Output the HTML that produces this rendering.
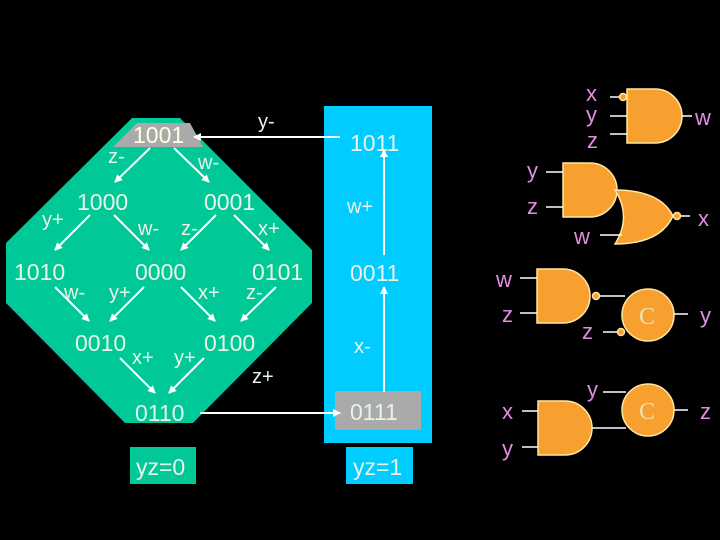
<!DOCTYPE html>
<html><head><style>body{margin:0;background:#000}svg{display:block}</style></head><body>
<svg width="720" height="540" viewBox="0 0 720 540" xmlns="http://www.w3.org/2000/svg" font-family="Liberation Sans, sans-serif">
<defs><marker id="a" markerWidth="8" markerHeight="8" refX="7" refY="4" orient="auto" markerUnits="userSpaceOnUse"><path d="M0,0 L8,4 L0,8 z" fill="#fff"/></marker></defs>
<rect width="720" height="540" fill="#000"/>
<polygon points="132,118 180,118 312,250 312,303 193,423 125,423 6,303 6,243" fill="#00c896"/>
<polygon points="137,123 190,123 203,147 113,147" fill="#aaa"/>
<rect x="324" y="106" width="108" height="337" fill="#00ccff"/>
<rect x="335" y="391" width="86" height="39" fill="#aaa"/>
<rect x="130" y="447" width="66" height="37" fill="#00c896"/>
<rect x="346" y="447" width="67" height="37" fill="#00ccff"/>
<g stroke="#fff" stroke-width="2" fill="none" marker-end="url(#a)">
<line x1="150" y1="148" x2="115" y2="182"/><line x1="174" y1="148" x2="209" y2="182"/>
<line x1="90" y1="215" x2="55" y2="250"/><line x1="114" y1="215" x2="149" y2="250"/>
<line x1="216" y1="215" x2="181" y2="250"/><line x1="234" y1="215" x2="269" y2="250"/>
<line x1="55" y1="287" x2="89" y2="321"/><line x1="144" y1="287" x2="110" y2="321"/>
<line x1="181" y1="287" x2="215" y2="321"/><line x1="276" y1="287" x2="241" y2="321"/>
<line x1="120" y1="358" x2="155" y2="393"/><line x1="204" y1="358" x2="169" y2="393"/>
<line x1="320" y1="137" x2="194" y2="137"/>
<line x1="200" y1="413" x2="340" y2="413"/>
<line x1="384" y1="392" x2="384" y2="287"/><line x1="384" y1="255" x2="384" y2="150"/>
</g>
<line x1="320" y1="137" x2="340" y2="137" stroke="#fff" stroke-width="2"/>
<g fill="#e8f4e8" font-size="23">
<text x="133" y="143" fill="#ffffe0">1001</text>
<text x="77" y="210">1000</text><text x="204" y="210">0001</text>
<text x="14" y="280">1010</text><text x="135" y="280">0000</text><text x="252" y="280">0101</text>
<text x="75" y="351">0010</text><text x="204" y="351">0100</text>
<text x="135" y="421">0110</text>
<text x="350" y="151">1011</text><text x="350" y="281">0011</text><text x="350" y="420">0111</text>
<text x="136" y="475">yz=0</text><text x="353" y="475">yz=1</text>
</g>
<g fill="#e8f4e8" font-size="20">
<text x="108" y="163">z-</text><text x="198" y="169">w-</text><text x="258" y="128">y-</text>
<text x="42" y="226">y+</text><text x="138" y="235">w-</text><text x="181" y="235">z-</text><text x="258" y="235">x+</text>
<text x="64" y="299">w-</text><text x="109" y="299">y+</text><text x="198" y="299">x+</text><text x="246" y="299">z-</text>
<text x="132" y="364">x+</text><text x="174" y="364">y+</text>
<text x="252" y="383">z+</text>
<text x="347" y="213">w+</text><text x="354" y="353">x-</text>
</g>
<g fill="#f7a030" stroke="#ffe8a0" stroke-width="1.5">
<path d="M627,89 H655 A27,27 0 0 1 655,143 H627 Z"/>
<path d="M563,163 H590 A27,27 0 0 1 590,217 H563 Z"/>
<path d="M615,190 Q660,190 673,216 Q660,244 615,244 Q632,217 615,190 Z"/>
<path d="M537,269 H563 A27,27 0 0 1 563,323 H537 Z"/>
<path d="M538,401 H565 A27,27 0 0 1 565,455 H538 Z"/>
<circle cx="648" cy="315" r="26"/><circle cx="648" cy="410" r="26"/>
<circle cx="623" cy="97" r="3.5"/><circle cx="677" cy="216" r="3.5"/><circle cx="596" cy="296" r="3.5"/><circle cx="621" cy="332" r="3.5"/>
</g>
<g stroke="#fff" stroke-width="1.5">
<line x1="610" y1="97" x2="619" y2="97"/><line x1="610" y1="116" x2="627" y2="116"/><line x1="610" y1="134" x2="627" y2="134"/><line x1="682" y1="116" x2="692" y2="116"/>
<line x1="546" y1="172" x2="563" y2="172"/><line x1="546" y1="207" x2="563" y2="207"/><line x1="600" y1="235" x2="622" y2="235"/><line x1="681" y1="216" x2="690" y2="216"/>
<line x1="520" y1="278" x2="537" y2="278"/><line x1="520" y1="313" x2="537" y2="313"/><line x1="600" y1="296" x2="625" y2="296"/><line x1="603" y1="332" x2="617" y2="332"/><line x1="674" y1="314" x2="688" y2="314"/>
<line x1="522" y1="411" x2="538" y2="411"/><line x1="522" y1="447" x2="538" y2="447"/><line x1="603" y1="392" x2="626" y2="392"/><line x1="592" y1="428" x2="626" y2="428"/><line x1="674" y1="410" x2="688" y2="410"/>
</g>
<g fill="#f0e0b0" font-family="Liberation Serif, serif" font-size="24"><text x="639" y="324">C</text><text x="639" y="419">C</text></g>
<g fill="#e08ee0" font-size="22">
<text x="586" y="101">x</text><text x="586" y="122">y</text><text x="587" y="148">z</text><text x="695" y="125">w</text>
<text x="527" y="178">y</text><text x="527" y="214">z</text><text x="574" y="244">w</text><text x="698" y="226">x</text>
<text x="496" y="287">w</text><text x="502" y="322">z</text><text x="582" y="339">z</text><text x="700" y="323">y</text>
<text x="587" y="397">y</text><text x="502" y="419">x</text><text x="502" y="456">y</text><text x="700" y="419">z</text>
</g>
</svg>
</body></html>
